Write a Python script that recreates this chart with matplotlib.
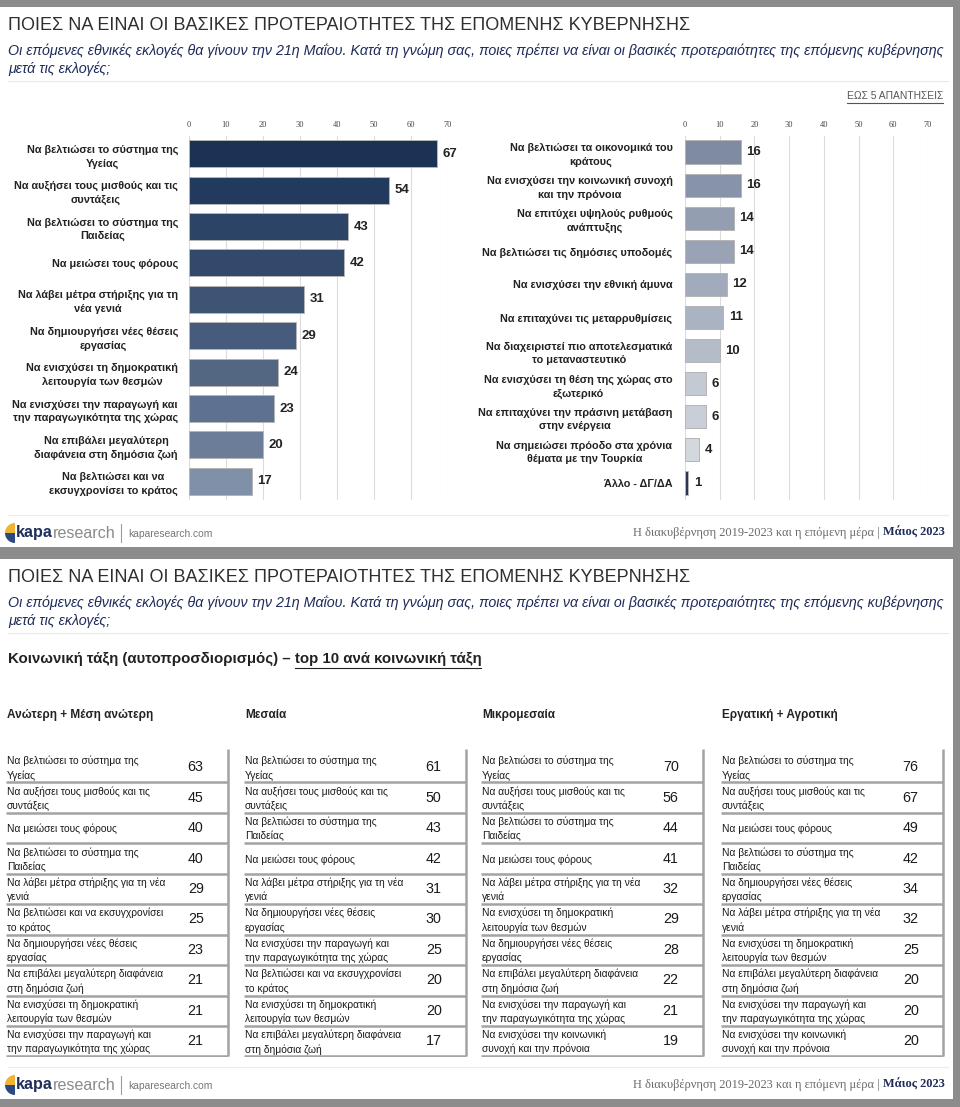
import matplotlib
matplotlib.use('Agg')
from matplotlib import pyplot as plt
from matplotlib import font_manager
from matplotlib.patches import Rectangle, Wedge
import numpy as np

plt.rcParams['font.family'] = ['Liberation Sans', 'DejaVu Sans']
# condensed face if installed (original deck uses Arial Narrow), else scale down
HAS_NARROW = 'Liberation Sans Narrow' in {f.name for f in font_manager.fontManager.ttflist}
NARROW = ['Liberation Sans Narrow', 'Liberation Sans'] if HAS_NARROW else ['Liberation Sans']
NSCALE = 1.0 if HAS_NARROW else 0.82

W, H = 960, 1107

TITLE = 'ΠΟΙΕΣ ΝΑ ΕΙΝΑΙ ΟΙ ΒΑΣΙΚΕΣ ΠΡΟΤΕΡΑΙΟΤΗΤΕΣ ΤΗΣ ΕΠΟΜΕΝΗΣ ΚΥΒΕΡΝΗΣΗΣ'
SUB1 = ('Οι επόμενες εθνικές εκλογές θα γίνουν την 21η Μαΐου. Κατά τη γνώμη σας, '
        'ποιες πρέπει να είναι οι βασικές προτεραιότητες της επόμενης κυβέρνησης')
SUB2 = 'μετά τις εκλογές;'

# ---- top chart data (ΕΩΣ 5 ΑΠΑΝΤΗΣΕΙΣ) ----
left_labels = ['Να βελτιώσει το σύστημα της\nΥγείας',
               'Να αυξήσει τους μισθούς και τις\nσυντάξεις',
               'Να βελτιώσει το σύστημα της\nΠαιδείας',
               'Να μειώσει τους φόρους',
               'Να λάβει μέτρα στήριξης για τη\nνέα γενιά',
               'Να δημιουργήσει νέες θέσεις\nεργασίας',
               'Να ενισχύσει τη δημοκρατική\nλειτουργία των θεσμών',
               'Να ενισχύσει την παραγωγή και\nτην παραγωγικότητα της χώρας',
               'Να επιβάλει μεγαλύτερη\nδιαφάνεια στη δημόσια ζωή',
               'Να βελτιώσει και να\nεκσυγχρονίσει το κράτος']
left_values = [67, 54, 43, 42, 31, 29, 24, 23, 20, 17]

right_labels = ['Να βελτιώσει τα οικονομικά του\nκράτους',
                'Να ενισχύσει την κοινωνική συνοχή\nκαι την πρόνοια',
                'Να επιτύχει υψηλούς ρυθμούς\nανάπτυξης',
                'Να βελτιώσει τις δημόσιες υποδομές',
                'Να ενισχύσει την εθνική άμυνα',
                'Να επιταχύνει τις μεταρρυθμίσεις',
                'Να διαχειριστεί πιο αποτελεσματικά\nτο μεταναστευτικό',
                'Να ενισχύσει τη θέση της χώρας στο\nεξωτερικό',
                'Να επιταχύνει την πράσινη μετάβαση\nστην ενέργεια',
                'Να σημειώσει πρόοδο στα χρόνια\nθέματα με την Τουρκία',
                'Άλλο - ΔΓ/ΔΑ']
right_values = [16, 16, 14, 14, 12, 11, 10, 6, 6, 4, 1]

# ---- bottom tables: top 10 per social class ----
HEALTH = 'Να βελτιώσει το σύστημα της\nΥγείας'
WAGES = 'Να αυξήσει τους μισθούς και τις\nσυντάξεις'
TAXES = 'Να μειώσει τους φόρους'
EDU = 'Να βελτιώσει το σύστημα της\nΠαιδείας'
YOUTH = 'Να λάβει μέτρα στήριξης για τη νέα\nγενιά'
MODERN = 'Να βελτιώσει και να εκσυγχρονίσει\nτο κράτος'
JOBS = 'Να δημιουργήσει νέες θέσεις\nεργασίας'
TRANSP = 'Να επιβάλει μεγαλύτερη διαφάνεια\nστη δημόσια ζωή'
DEMO = 'Να ενισχύσει τη δημοκρατική\nλειτουργία των θεσμών'
PROD = 'Να ενισχύσει την παραγωγή και\nτην παραγωγικότητα της χώρας'
SOCIAL = 'Να ενισχύσει την κοινωνική\nσυνοχή και την πρόνοια'

class_names = ['Ανώτερη + Μέση ανώτερη', 'Μεσαία', 'Μικρομεσαία', 'Εργατική + Αγροτική']
upper_items = [HEALTH, WAGES, TAXES, EDU, YOUTH, MODERN, JOBS, TRANSP, DEMO, PROD]
upper_values = [63, 45, 40, 40, 29, 25, 23, 21, 21, 21]
middle_items = [HEALTH, WAGES, EDU, TAXES, YOUTH, JOBS, PROD, MODERN, DEMO, TRANSP]
middle_values = [61, 50, 43, 42, 31, 30, 25, 20, 20, 17]
lowmid_items = [HEALTH, WAGES, EDU, TAXES, YOUTH, DEMO, JOBS, TRANSP, PROD, SOCIAL]
lowmid_values = [70, 56, 44, 41, 32, 29, 28, 22, 21, 19]
worker_items = [HEALTH, WAGES, TAXES, EDU, JOBS, YOUTH, DEMO, TRANSP, PROD, SOCIAL]
worker_values = [76, 67, 49, 42, 34, 32, 25, 20, 20, 20]

# styles
left_colors = ['#1b3255', '#223a5e', '#2c4466', '#33496b', '#3e5475',
               '#475c7c', '#536783', '#5e7190', '#6b7d98', '#8090a8']
right_colors = ['#7e8ba1', '#8693a8', '#939eb1', '#99a3b5', '#a1abbb', '#aab3c1',
                '#b5bcc9', '#c4cad4', '#c9ced8', '#d3d8df', '#2c3651']
NAVY = '#1e2a5a'


def px_rect(x0, y0, x1, y1):
    return [x0 / W, 1 - y1 / H, (x1 - x0) / W, (y1 - y0) / H]


fig = plt.figure(figsize=(W / 100, H / 100), dpi=100)
fig.patch.set_facecolor('#8c8c8c')
bg = fig.add_axes([0, 0, 1, 1])
bg.set_xlim(0, W)
bg.set_ylim(H, 0)
bg.axis('off')
renderer = fig.canvas.get_renderer()


def extent(t):
    bb = t.get_window_extent(renderer=renderer)
    inv = bg.transData.inverted()
    (x0, y0), (x1, y1) = inv.transform([[bb.x0, bb.y0], [bb.x1, bb.y1]])
    return x0, x1, max(y0, y1)


def header(y0):
    bg.add_patch(Rectangle((0, y0), 953, 540, facecolor='white', edgecolor='none'))
    bg.text(8, y0 + 19, TITLE, fontsize=15.8 * NSCALE, color='#2e2e2e', va='center',
            family=NARROW)
    bg.text(8, y0 + 44, SUB1, fontsize=10.3, style='italic', color=NAVY, va='center')
    bg.text(8, y0 + 62, SUB2, fontsize=10.3, style='italic', color=NAVY, va='center')
    bg.plot([8, 948], [y0 + 74, y0 + 74], color='#e8e8e8', lw=0.8)


def footer(yf):
    bg.plot([8, 948], [yf - 18, yf - 18], color='#ececec', lw=0.8)
    bg.add_patch(Wedge((15, yf), 10, 180, 270, facecolor='#f0b434', edgecolor='none'))
    bg.add_patch(Wedge((15, yf), 10, 90, 180, facecolor='#2b4a84', edgecolor='none'))
    t = bg.text(15.5, yf, 'kapa', fontsize=11.6, fontweight='bold', color='#1f2f5c', va='center')
    x0, x1, _ = extent(t)
    t = bg.text(x1, yf, 'research', fontsize=11.6, color='#8a8a8a', va='center')
    x0, x1, _ = extent(t)
    bg.plot([x1 + 6, x1 + 6], [yf - 9, yf + 9], color='#9a9a9a', lw=0.8)
    bg.text(x1 + 13, yf + 1, 'kaparesearch.com', fontsize=7.4, color='#777777', va='center')
    t = bg.text(945, yf, 'Μάιος 2023', fontsize=8.9, fontweight='bold', color=NAVY,
                family='Liberation Serif', ha='right', va='center')
    x0, x1, _ = extent(t)
    bg.text(x0 - 4, yf, 'Η διακυβέρνηση 2019-2023 και η επόμενη μέρα |', fontsize=8.9,
            color='#6a6a6a', family='Liberation Serif', ha='right', va='center')


def underline(t, gap=2):
    x0, x1, yb = extent(t)
    bg.plot([x0, x1], [yb + gap, yb + gap], color=t.get_color(), lw=0.8)


def bar_panel(rect, labels, values, colors, height, pad):
    ax = fig.add_axes(rect)
    ypos = np.arange(len(values))
    ax.barh(ypos, values, height=height, color=colors, edgecolor='#b5b5b5',
            linewidth=0.7, zorder=2)
    for y, v in zip(ypos, values):
        ax.annotate(str(v), (v, y), xytext=(4, 0), textcoords='offset points',
                    va='center', ha='left', fontsize=11.5 * NSCALE, fontweight='bold',
                    family=NARROW, color='#222222', annotation_clip=False)
    ax.set_xlim(0, 70)
    ax.set_ylim(len(values) - 0.5, -0.5)
    ax.set_xticks(range(0, 71, 10))
    ax.xaxis.tick_top()
    ax.tick_params(axis='x', length=0, pad=5, labelsize=6, labelcolor='#444444')
    for t in ax.get_xticklabels():
        t.set_family('Liberation Serif')
    ax.set_yticks(ypos, labels)
    ax.tick_params(axis='y', length=0, pad=pad)
    for t in ax.get_yticklabels():
        t.set_fontsize(7.8)
        t.set_fontweight('bold')
        t.set_color('#222222')
        t.set_multialignment('center')
        t.set_linespacing(1.45)
    ax.grid(axis='x', color='#dcdcdc', lw=0.8)
    ax.set_axisbelow(True)
    for s in ax.spines.values():
        s.set_visible(False)
    ax.patch.set_alpha(0)
    return ax


def table_panel(x0, x1, name, items, values):
    bg.text(x0 + 1, 715, name, fontsize=10.3 * NSCALE, fontweight='bold', family=NARROW,
            color='#222222', va='center')
    ax = fig.add_axes(px_rect(x0, 752, x1, 1057))
    n = len(values)
    rows = np.arange(n) + 0.5
    for y, lab, v in zip(rows, items, values):
        ax.text(0.005, y + 0.03, lab, fontsize=7.4, color='#1a1a1a', va='center', ha='left',
                linespacing=1.45)
        ax.text(0.855, y, str(v), fontsize=12.5 * NSCALE, family=NARROW, color='#1a1a1a',
                va='center', ha='center')
    ax.hlines(np.arange(1, n + 1), 0, 1, color='#a3a3a3', lw=1.8)
    ax.vlines(1, -0.1, n, color='#a3a3a3', lw=1.8, clip_on=False)
    ax.set_xlim(0, 1.005)
    ax.set_ylim(n + 0.02, 0)
    ax.axis('off')


# panel 1
header(7)
t = bg.text(943, 96, 'ΕΩΣ 5 ΑΠΑΝΤΗΣΕΙΣ', fontsize=7.4, color='#555555', ha='right', va='center')
underline(t)
bar_panel(px_rect(189, 135.5, 448, 499.5), left_labels, left_values, left_colors, 0.74, 8)
bar_panel(px_rect(685, 135.5, 928, 499.5), right_labels, right_values, right_colors, 0.7, 9)
footer(533)

# panel 2
header(559)
t = bg.text(8, 659, 'Κοινωνική τάξη (αυτοπροσδιορισμός) – ', fontsize=10.8,
            fontweight='bold', color='#222222', va='center')
x0, x1, _ = extent(t)
t2 = bg.text(x1, 659, 'top 10 ανά κοινωνική τάξη', fontsize=10.8,
             fontweight='bold', color='#222222', va='center')
underline(t2, gap=1.5)

table_x = [(6, 229), (244, 467), (481, 704), (721, 944)]
table_items = [upper_items, middle_items, lowmid_items, worker_items]
table_values = [upper_values, middle_values, lowmid_values, worker_values]
for (xa, xb), name, items, vals in zip(table_x, class_names, table_items, table_values):
    table_panel(xa, xb, name, items, vals)
footer(1085)

plt.savefig('out.png', dpi=100, facecolor=fig.get_facecolor())
